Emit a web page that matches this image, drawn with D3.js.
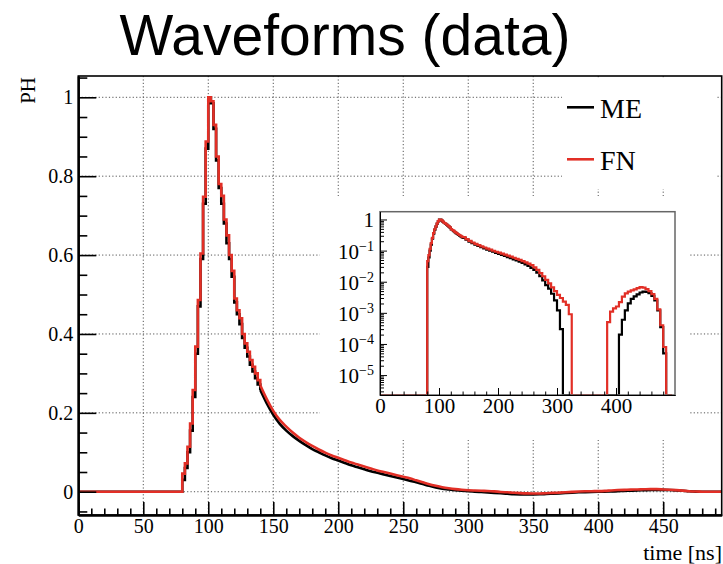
<!DOCTYPE html>
<html lang="en">
<head>
<meta charset="utf-8">
<title>Waveforms (data)</title>
<script src="https://cdn.jsdelivr.net/npm/d3@7"></script>
<style>
  body { margin: 0; background: #fff; }
  svg { display: block; }
  text { font-family: "Liberation Serif", "Times New Roman", serif; fill: #000; }
</style>
</head>
<body>
<script>
// ---- data (normalised pulse height vs time in ns) ----
var seriesNames = ["ME", "FN"];
var seriesColors = ["#000000", "#e22f26"];

// 2 ns wide bins around the peak (lower bin edges)
var peakTime = [80, 82, 84, 86, 88, 90, 92, 94, 96, 98,
                100, 102, 104, 106, 108, 110, 112, 114, 116, 118,
                120, 122, 124, 126, 128, 130, 132, 134, 136, 138];
var peakME = [0.03, 0.06, 0.10, 0.155, 0.24, 0.35, 0.47, 0.59, 0.73, 0.87,
              1.0, 0.985, 0.92, 0.84, 0.77, 0.73, 0.68, 0.63, 0.59, 0.545,
              0.48, 0.45, 0.425, 0.39, 0.365, 0.343, 0.322, 0.305, 0.288, 0.272];
var peakFN = [0.046, 0.072, 0.114, 0.173, 0.258, 0.368, 0.486, 0.604, 0.748, 0.888,
              1.0, 0.99, 0.93, 0.85, 0.78, 0.75, 0.69, 0.65, 0.60, 0.56,
              0.49, 0.46, 0.44, 0.40, 0.376, 0.355, 0.334, 0.317, 0.30, 0.283];

// tail, sampled every 5 ns
var tailTime = [140, 145, 150, 155, 160, 165, 170, 175,
                180, 185, 190, 195, 200, 205, 210, 215,
                220, 225, 230, 235, 240, 245, 250, 255,
                260, 265, 270, 275, 280, 285, 290, 295,
                300, 305, 310, 315, 320, 325, 330, 335,
                340, 345, 350, 355, 360, 365, 370, 375,
                380, 385, 390, 395, 400, 405, 410, 415,
                420, 425, 430, 435, 440, 445, 450, 455,
                460, 465, 470, 475, 480, 485, 490, 495];
var tailME = [0.258, 0.224, 0.195, 0.172, 0.155, 0.141, 0.129, 0.118,
              0.108, 0.1, 0.092, 0.085, 0.079, 0.073, 0.067, 0.062,
              0.057, 0.052, 0.048, 0.044, 0.04, 0.036, 0.032, 0.028,
              0.024, 0.0195, 0.015, 0.011, 0.0078, 0.006, 0.0041, 0.0025,
              0.0012, 0.0003, -0.0006, -0.0016, -0.0028, -0.004, -0.005, -0.006,
              -0.0066, -0.007, -0.0069, -0.0065, -0.0058, -0.005, -0.0041, -0.0032,
              -0.0023, -0.0015, -0.0009, -0.0004, -0.00005, 0.0002, 0.0006, 0.0012,
              0.002, 0.0028, 0.0034, 0.0039, 0.0045, 0.0048, 0.0047, 0.0043,
              0.0035, 0.0025, 0.0012, 0.00035, 0.00005, -0.0001, -0.00005, 0];
var tailFN = [0.27, 0.235, 0.205, 0.182, 0.165, 0.15, 0.137, 0.126,
              0.116, 0.107, 0.099, 0.092, 0.086, 0.08, 0.074, 0.069,
              0.064, 0.059, 0.054, 0.05, 0.046, 0.042, 0.038, 0.034,
              0.029, 0.024, 0.019, 0.015, 0.0115, 0.0088, 0.0066, 0.005,
              0.0038, 0.003, 0.0023, 0.0018, 0.0009, -0.0005, -0.0015, -0.0025,
              -0.0035, -0.0042, -0.0045, -0.0043, -0.0038, -0.003, -0.0022, -0.0013,
              -0.0004, 0.0005, 0.0011, 0.0014, 0.0016, 0.0022, 0.0033, 0.0042,
              0.0048, 0.0053, 0.0057, 0.0062, 0.0067, 0.0065, 0.0058, 0.005,
              0.004, 0.0028, 0.0013, 0.0004, 0.00008, -0.0002, -0.0001, 0];

// ticks
var xTicks = [0, 50, 100, 150, 200, 250, 300, 350, 400, 450];
var xTickLabels = ["0", "50", "100", "150", "200", "250", "300", "350", "400", "450"];
var yTicks = [0, 0.2, 0.4, 0.6, 0.8, 1];
var yTickLabels = ["0", "0.2", "0.4", "0.6", "0.8", "1"];
var insetXTicks = [0, 100, 200, 300, 400];
var insetXTickLabels = ["0", "100", "200", "300", "400"];
var insetYExps = [0, -1, -2, -3, -4, -5];

// ---- layout ----
var w = 723, h = 564;
var fr = {left: 78.3, right: 721.7, top: 76, bottom: 515};
var ins = {left: 380, right: 675, top: 211.7, bottom: 395};

var svg = d3.select("body").append("svg").attr("width", w).attr("height", h);

var x = d3.scaleLinear().domain([0, 495]).range([fr.left, fr.right]);
var y = d3.scaleLinear().domain([-0.059, 1.054]).range([fr.bottom, fr.top]);

function build(peak, tail) {
  var pts = [{t: 0, v: 0}];
  peakTime.forEach(function(t, i) { pts.push({t: t, v: peak[i]}); });
  var head = pts.slice();
  head.push({t: tailTime[0], v: tail[0]});
  var tl = tailTime.map(function(t, i) { return {t: t, v: tail[i]}; });
  return {head: head, tail: tl, all: pts.concat(tl)};
}
var series = [build(peakME, tailME), build(peakFN, tailFN)];

// title
svg.append("text")
  .attr("x", 345).attr("y", 55)
  .attr("text-anchor", "middle")
  .style("font-family", "'Liberation Sans', Arial, sans-serif")
  .style("font-size", "57px")
  .text("Waveforms (data)");

// grid
var grid = svg.append("g").attr("stroke", "#555").attr("stroke-width", 1)
  .attr("stroke-dasharray", "1.2,2.2");
grid.selectAll(".gx").data(xTicks.slice(1)).enter().append("line")
  .attr("x1", d => x(d)).attr("x2", d => x(d)).attr("y1", fr.top).attr("y2", fr.bottom);
grid.selectAll(".gy").data(yTicks).enter().append("line")
  .attr("x1", fr.left).attr("x2", fr.right).attr("y1", d => y(d)).attr("y2", d => y(d));

// curves
var stepLine = d3.line().x(d => x(d.t)).y(d => y(d.v)).curve(d3.curveStepAfter);
var smoothLine = d3.line().x(d => x(d.t)).y(d => y(d.v)).curve(d3.curveMonotoneX);
series.forEach(function(s, i) {
  var g = svg.append("g").attr("fill", "none").attr("stroke", seriesColors[i])
    .attr("stroke-width", 2.6).attr("stroke-linejoin", "miter");
  g.append("path").attr("d", stepLine(s.head));
  g.append("path").attr("d", smoothLine(s.tail));
});

// legend
svg.append("rect").attr("x", 562).attr("y", 79).attr("width", 154).attr("height", 110).attr("fill", "#fff");
var legY = [107.3, 159.3];
seriesNames.forEach(function(n, i) {
  svg.append("line").attr("x1", 567).attr("x2", 594).attr("y1", legY[i]).attr("y2", legY[i])
    .attr("stroke", seriesColors[i]).attr("stroke-width", 2.6);
  svg.append("text").attr("x", 600).attr("y", legY[i] + 11).style("font-size", "28px").text(n);
});

// main axes
var yAxis = svg.append("g").attr("transform", "translate(" + fr.left + ",0)")
  .call(d3.axisLeft(y).tickValues(yTicks).tickSize(-18).tickSizeOuter(0).tickPadding(5)
    .tickFormat((d, i) => yTickLabels[i]));
svg.append("g").attr("transform", "translate(" + fr.left + ",0)")
  .call(d3.axisLeft(y).tickValues(d3.range(-0.05, 1.06, 0.05).filter(v => Math.abs(v * 5 - Math.round(v * 5)) > 1e-6))
    .tickSize(-9).tickSizeOuter(0).tickFormat(""));
var xAxis = svg.append("g").attr("transform", "translate(0," + fr.bottom + ")")
  .call(d3.axisBottom(x).tickValues(xTicks).tickSize(-13).tickSizeOuter(0).tickPadding(4)
    .tickFormat((d, i) => xTickLabels[i]));
svg.append("g").attr("transform", "translate(0," + fr.bottom + ")")
  .call(d3.axisBottom(x).tickValues(d3.range(10, 495, 10).filter(v => v % 50 !== 0))
    .tickSize(-6.5).tickSizeOuter(0).tickFormat(""));
svg.selectAll(".domain").attr("stroke-width", 2);
svg.selectAll(".tick line").attr("stroke-width", 1.6);
svg.selectAll(".tick text").style("font-size", "20px").style("font-family", "'Liberation Serif', serif");

svg.append("rect").attr("x", fr.left).attr("y", fr.top)
  .attr("width", fr.right - fr.left).attr("height", fr.bottom - fr.top)
  .attr("fill", "none").attr("stroke", "#000").attr("stroke-width", 1.6);

// axis titles
svg.append("text").attr("transform", "translate(35,77) rotate(-90)")
  .attr("text-anchor", "end").style("font-size", "21px").text("PH");
svg.append("text").attr("x", 722).attr("y", 560)
  .attr("text-anchor", "end").style("font-size", "22px").text("time [ns]");

// ---- inset (log scale) ----
svg.append("rect").attr("x", 320).attr("y", 196).attr("width", 370).attr("height", 244).attr("fill", "#fff");

var xi = d3.scaleLinear().domain([0, 500]).range([ins.left, ins.right]);
var yi = d3.scaleLog().domain([Math.pow(10, -5.64), Math.pow(10, 0.25)]).range([ins.bottom, ins.top]);
var yMin = yi.domain()[0];
var logLine = d3.line().x(d => xi(d.t)).y(d => yi(Math.max(d.v, yMin))).curve(d3.curveStepAfter);
series.forEach(function(s, i) {
  svg.append("path").attr("d", logLine(s.all)).attr("fill", "none")
    .attr("stroke", seriesColors[i]).attr("stroke-width", 2.2);
});

svg.append("rect").attr("x", ins.left).attr("y", ins.top)
  .attr("width", ins.right - ins.left).attr("height", ins.bottom - ins.top)
  .attr("fill", "none").attr("stroke", "#666").attr("stroke-width", 1.5);

var minorLog = [];
for (var e = -6; e <= 0; e++) for (var k = 2; k <= 9; k++) {
  var v = k * Math.pow(10, e);
  if (v > yMin && v < yi.domain()[1]) minorLog.push(v);
}
var iy = svg.append("g").attr("transform", "translate(" + ins.left + ",0)");
iy.call(d3.axisLeft(yi).tickValues(insetYExps.map(e => Math.pow(10, e))).tickSize(-7).tickSizeOuter(0).tickFormat(""));
svg.append("g").attr("transform", "translate(" + ins.left + ",0)")
  .call(d3.axisLeft(yi).tickValues(minorLog).tickSize(-4).tickSizeOuter(0).tickFormat(""));
svg.append("g").attr("transform", "translate(0," + ins.bottom + ")")
  .call(d3.axisBottom(xi).tickValues(insetXTicks).tickSize(-7).tickSizeOuter(0).tickPadding(3)
    .tickFormat((d, i) => insetXTickLabels[i]))
  .selectAll("text").style("font-size", "21px").style("font-family", "'Liberation Serif', serif");
svg.append("g").attr("transform", "translate(0," + ins.bottom + ")")
  .call(d3.axisBottom(xi).tickValues(d3.range(20, 500, 20).filter(v => v % 100 !== 0))
    .tickSize(-3.5).tickSizeOuter(0).tickFormat(""));

insetYExps.forEach(function(e) {
  var t = svg.append("text").attr("x", 374).attr("y", yi(Math.pow(10, e)) + 8)
    .attr("text-anchor", "end").style("font-size", "21px");
  if (e === 0) { t.text("1"); return; }
  t.append("tspan").text("10");
  t.append("tspan").attr("dy", -8).style("font-size", "14px").text("\u2212" + (-e));
});
</script>
</body>
</html>
